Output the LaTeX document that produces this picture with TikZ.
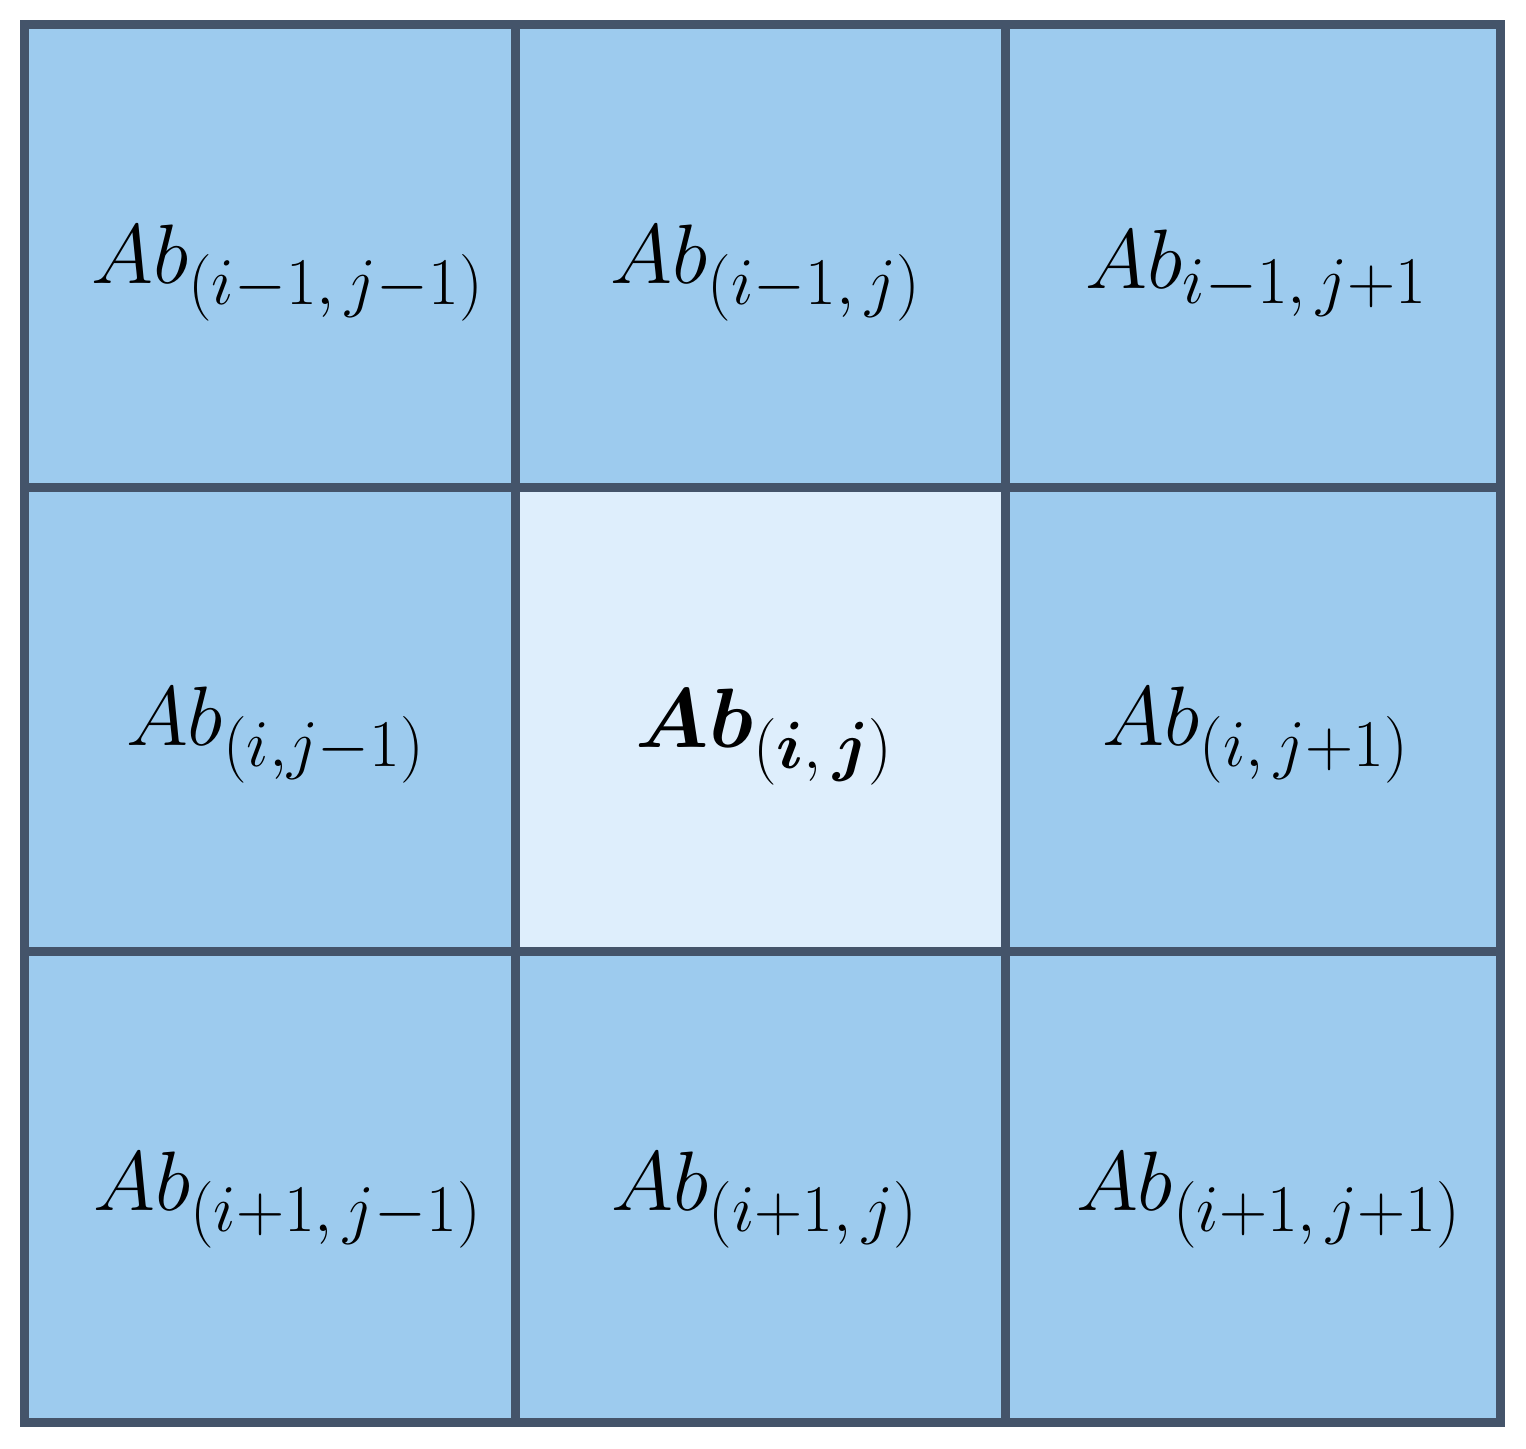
\RequirePackage{fix-cm}
\documentclass[tikz,border=0pt]{standalone}
\usepackage{amsmath,bm}
\DeclareMathSizes{24}{24}{19}{14}
\definecolor{cellblue}{HTML}{9DCBEE}
\definecolor{cellpale}{HTML}{DEEEFC}
\definecolor{gridline}{HTML}{44546A}
\tikzset{
  cell/.style={draw=gridline, line width=0.09cm, fill=cellblue},
  ablabel/.style={inner sep=0pt, font=\fontsize{24}{28}\selectfont},
}

\begin{document}
\begin{tikzpicture}
            \useasboundingbox (0,0) rectangle (15.26,14.49);
            % cells
            \draw[cell] (0.24,9.61) rectangle (5.15,14.245);
            \draw[cell] (5.15,9.61) rectangle (10.05,14.245);
            \draw[cell] (10.05,9.61) rectangle (15.00,14.245);
            \draw[cell] (0.24,4.97) rectangle (5.15,9.61);
            \draw[cell, fill=cellpale] (5.15,4.97) rectangle (10.05,9.61);
            \draw[cell] (10.05,4.97) rectangle (15.00,9.61);
            \draw[cell] (0.24,0.26) rectangle (5.15,4.97);
            \draw[cell] (5.15,0.26) rectangle (10.05,4.97);
            \draw[cell] (10.05,0.26) rectangle (15.00,4.97);

            % labels
            \node[ablabel] (nw) at (2.88,11.76) {$Ab_{(i-1,\, j-1)}$};
            \node[ablabel] (n) at (7.66,11.76) {$Ab_{(i-1,\, j)}$};
            \node[ablabel] (ne) at (12.57,11.76) {$Ab_{i-1,\, j+1}$};
            \node[ablabel] (w) at (2.76,7.14) {$Ab_{(i,j-1)}$};
            \node[ablabel] (c) at (7.65,7.12) {$\bm{Ab}_{(\bm{i},\, \bm{j})}$};
            \node[ablabel] (e) at (12.56,7.14) {$Ab_{(i,\, j+1)}$};
            \node[ablabel] (sw) at (2.88,2.49) {$Ab_{(i+1,\, j-1)}$};
            \node[ablabel] (s) at (7.65,2.49) {$Ab_{(i+1,\, j)}$};
            \node[ablabel] (se) at (12.69,2.49) {$Ab_{(i+1,\, j+1)}$};
        \end{tikzpicture}
\end{document}
